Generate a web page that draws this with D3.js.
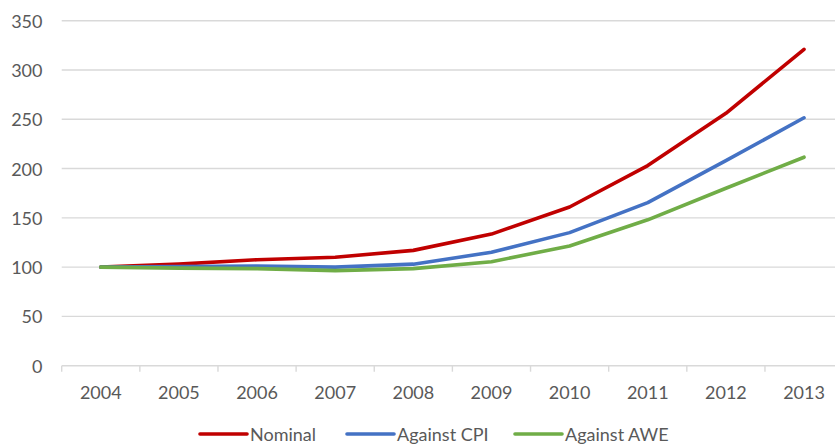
<!DOCTYPE html>
<html>
<head>
<meta charset="utf-8">
<script src="https://cdn.jsdelivr.net/npm/d3@7"></script>
<style>
  html, body { margin: 0; padding: 0; background: #fff; }
  svg { display: block; }
  text { font-family: Lato, "Open Sans", sans-serif; fill: #595959; }
</style>
</head>
<body>
<svg id="chart" width="835" height="445"></svg>
<script>
// Index values (2004 = 100)
const years = ["2004","2005","2006","2007","2008","2009","2010","2011","2012","2013"];
const nominal    = [100, 103, 107.5, 110, 117, 133.5, 161, 203, 256, 321];
const againstCPI = [100, 100.5, 101, 100, 103, 115, 135, 165.5, 208, 251.5];
const againstAWE = [100, 99, 98.5, 96.5, 98.5, 105.5, 121.5, 148, 180, 211.5];
const yTicks = [0, 50, 100, 150, 200, 250, 300, 350];

const seriesNames  = ["Nominal", "Against CPI", "Against AWE"];
const seriesColors = ["#C00000", "#4472C4", "#70AD47"];
const seriesValues = [nominal, againstCPI, againstAWE];

const svg = d3.select("#chart");

const x = d3.scaleBand().domain(years).range([61.7, 843.1]).paddingInner(0).paddingOuter(0);
const y = d3.scaleLinear().domain([0, 350]).range([365.7, 20.7]);

// horizontal gridlines
svg.append("g")
  .selectAll("line")
  .data(yTicks.filter(d => d !== 0))
  .join("line")
  .attr("x1", x.range()[0]).attr("x2", x.range()[1])
  .attr("y1", d => y(d)).attr("y2", d => y(d))
  .attr("stroke", "#d9d9d9").attr("stroke-width", 1.4);

// y axis labels
const yAxis = d3.axisLeft(y).tickValues(yTicks).tickSize(0).tickPadding(0);
svg.append("g")
  .attr("transform", "translate(42.5,0)")
  .call(yAxis)
  .call(g => g.select(".domain").remove())
  .call(g => g.selectAll("text")
    .style("font-family", "Lato, 'Open Sans', sans-serif")
    .attr("font-size", 18).attr("fill", "#595959").attr("dy", "0.36em"));

// category axis: baseline plus boundary ticks
const axisG = svg.append("g");
axisG.append("line")
  .attr("x1", x.range()[0]).attr("x2", x.range()[1])
  .attr("y1", y(0)).attr("y2", y(0))
  .attr("stroke", "#d9d9d9").attr("stroke-width", 1.4);
const bounds = years.map(d => x(d)).concat([x.range()[1]]);
axisG.selectAll("line.tick")
  .data(bounds)
  .join("line")
  .attr("class", "tick")
  .attr("x1", d => d).attr("x2", d => d)
  .attr("y1", y(0)).attr("y2", y(0) + 6)
  .attr("stroke", "#d9d9d9").attr("stroke-width", 1.4);

const xAxis = d3.axisBottom(x).tickSize(0).tickPadding(0);
svg.append("g")
  .attr("transform", `translate(0,${y(0)})`)
  .call(xAxis)
  .call(g => g.select(".domain").remove())
  .call(g => g.selectAll("text")
    .style("font-family", "Lato, 'Open Sans', sans-serif")
    .attr("font-size", 18).attr("fill", "#595959").attr("y", 0).attr("dy", 33.5));

// series lines
const line = d3.line()
  .x((d, i) => x(years[i]) + x.bandwidth() / 2)
  .y(d => y(d));

svg.append("g")
  .selectAll("path")
  .data(seriesValues)
  .join("path")
  .attr("d", d => line(d))
  .attr("fill", "none")
  .attr("stroke", (d, i) => seriesColors[i])
  .attr("stroke-width", 3.6)
  .attr("stroke-linejoin", "round")
  .attr("stroke-linecap", "round");

// legend along the bottom edge
const legendX = [200, 347, 515];
const legend = svg.append("g")
  .selectAll("g")
  .data(seriesNames)
  .join("g")
  .attr("transform", (d, i) => `translate(${legendX[i]},434)`);
legend.append("line")
  .attr("x1", 0).attr("x2", 47)
  .attr("y1", 0).attr("y2", 0)
  .attr("stroke", (d, i) => seriesColors[i])
  .attr("stroke-width", 3.6)
  .attr("stroke-linecap", "round");
legend.append("text")
  .attr("x", 50).attr("y", 6.5)
  .attr("font-size", 18)
  .text(d => d);
</script>
</body>
</html>
